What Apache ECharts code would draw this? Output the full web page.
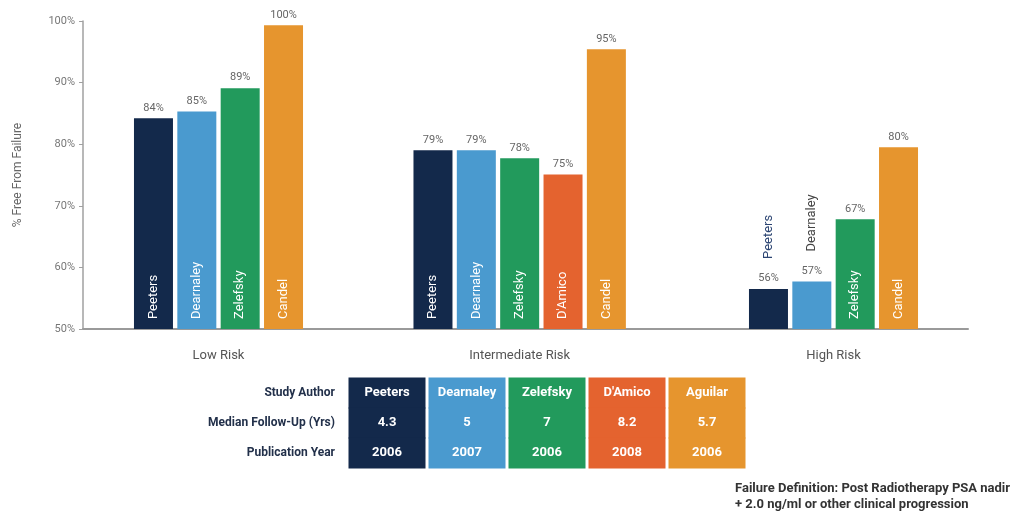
<!DOCTYPE html>
<html>
<head>
<meta charset="utf-8">
<title>% Free From Failure by Risk Group</title>
<script src="https://cdn.jsdelivr.net/npm/echarts@6/dist/echarts.min.js"></script>
<style>
  html, body { margin: 0; padding: 0; background: #fff; }
  #chart { width: 1018px; height: 513px; }
</style>
</head>
<body>
<div id="chart"></div>
<script>
  // risk groups
  const groupNames = ['Low Risk', 'Intermediate Risk', 'High Risk']

  // bars per group
  const lowAuthors = ['Peeters', 'Dearnaley', 'Zelefsky', 'Candel']
  const lowValues = [84.2, 85.3, 89.1, 99.3]
  const lowLabels = ['84%', '85%', '89%', '100%']

  const intAuthors = ['Peeters', 'Dearnaley', 'Zelefsky', "D'Amico", 'Candel']
  const intValues = [79.0, 79.0, 77.7, 75.1, 95.4]
  const intLabels = ['79%', '79%', '78%', '75%', '95%']

  const highAuthors = ['Peeters', 'Dearnaley', 'Zelefsky', 'Candel']
  const highValues = [56.5, 57.7, 67.8, 79.5]
  const highLabels = ['56%', '57%', '67%', '80%']

  const yTicks = [50, 60, 70, 80, 90, 100]

  // study table
  const rowHeads = ['Study Author', 'Median Follow-Up (Yrs)', 'Publication Year']
  const tableAuthors = ['Peeters', 'Dearnaley', 'Zelefsky', "D'Amico", 'Aguilar']
  const followUp = ['4.3', '5', '7', '8.2', '5.7']
  const pubYear = ['2006', '2007', '2006', '2008', '2006']

  const authorColor = {
    Peeters: '#13294b',
    Dearnaley: '#4a9acf',
    Zelefsky: '#229a5c',
    "D'Amico": '#e4632f',
    Candel: '#e6952e',
    Aguilar: '#e6952e'
  }
  const outsideNameColor = { Peeters: '#2b4472', Dearnaley: '#444' }

  const FONT = 'Roboto, "Open Sans", sans-serif'
  const groups = [
    { authors: lowAuthors, values: lowValues, labels: lowLabels, left: 131.8 },
    { authors: intAuthors, values: intValues, labels: intLabels, left: 411.3 },
    { authors: highAuthors, values: highValues, labels: highLabels, left: 746.8 }
  ]
  const BAND = 43.35
  const GRID_TOP = 21
  const GRID_BOTTOM = 184

  const chart = echarts.init(document.getElementById('chart'))

  const grids = [{ left: 83, right: 50, top: GRID_TOP, bottom: GRID_BOTTOM }]
  const xAxes = [{
    gridIndex: 0, type: 'value', min: 0, max: 1,
    axisLine: { show: true, lineStyle: { color: '#9a9a9a', width: 2 } },
    axisTick: { show: false }, axisLabel: { show: false }, splitLine: { show: false }
  }]
  const yAxes = [{
    gridIndex: 0, type: 'value', min: yTicks[0], max: yTicks[yTicks.length - 1], interval: 10,
    name: '% Free From Failure', nameLocation: 'middle', nameGap: 59,
    nameTextStyle: { color: '#666', fontSize: 12, fontFamily: FONT },
    axisLine: { show: true, lineStyle: { color: '#a0a0a0', width: 1.5 } },
    axisTick: { show: true, length: 4, lineStyle: { color: '#a0a0a0' } },
    axisLabel: { formatter: '{value}%', color: '#777', fontSize: 11, fontFamily: FONT, margin: 8 },
    splitLine: { show: false }
  }]
  const series = []

  groups.forEach((g, i) => {
    const gi = i + 1
    grids.push({ left: g.left, width: BAND * g.authors.length, top: GRID_TOP, bottom: GRID_BOTTOM })
    xAxes.push({
      gridIndex: gi, type: 'category', data: g.authors,
      name: groupNames[i], nameLocation: 'middle', nameGap: 20,
      nameTextStyle: { color: '#555', fontSize: 13, fontFamily: FONT },
      axisLine: { show: false }, axisTick: { show: false }, axisLabel: { show: false }
    })
    yAxes.push({ gridIndex: gi, type: 'value', min: 50, max: 100, show: false })

    // visible bars with value labels on top
    series.push({
      type: 'bar', xAxisIndex: gi, yAxisIndex: gi, barWidth: 39, barGap: '-100%',
      data: g.values.map((v, k) => ({ value: v, itemStyle: { color: authorColor[g.authors[k]] } })),
      label: {
        show: true, position: 'top', distance: 5,
        formatter: p => g.labels[p.dataIndex],
        color: '#666', fontSize: 11, fontFamily: FONT
      }
    })
    // author names, rotated
    series.push({
      type: 'bar', xAxisIndex: gi, yAxisIndex: gi, barWidth: 39, barGap: '-100%',
      itemStyle: { color: 'transparent' },
      data: g.values.map((v, k) => {
        const name = g.authors[k]
        const item = { value: v }
        if (v - 50 < 10) {
          item.label = { position: 'top', distance: 30, color: outsideNameColor[name] || '#444' }
        }
        return item
      }),
      label: {
        show: true, position: 'insideBottom', distance: 10, rotate: 90,
        align: 'left', verticalAlign: 'middle',
        formatter: p => g.authors[p.dataIndex],
        color: '#fff', fontSize: 13, fontFamily: FONT
      },
      silent: true
    })
  })

  // table grid
  const tableGrid = grids.length
  grids.push({ left: 347, width: 400, top: 378, height: 90 })
  xAxes.push({ gridIndex: tableGrid, type: 'category', data: tableAuthors, show: false })
  yAxes.push({
    gridIndex: tableGrid, type: 'category', data: rowHeads, inverse: true,
    axisLine: { show: false }, axisTick: { show: false },
    axisLabel: { color: '#22304a', fontSize: 12, fontWeight: 'bold', fontFamily: FONT, margin: 12 }
  })
  const tableRows = [tableAuthors, followUp, pubYear]
  const cells = []
  tableRows.forEach((row, r) => row.forEach((_, c) => cells.push([c, r])))

  series.push({
    type: 'custom', xAxisIndex: tableGrid, yAxisIndex: tableGrid, silent: true,
    data: cells,
    renderItem: (params, api) => {
      const c = api.value(0)
      const r = api.value(1)
      const center = api.coord([c, r])
      const size = api.size([1, 1])
      const w = size[0] - 3
      const h = size[1] + 1
      return {
        type: 'group',
        children: [
          {
            type: 'rect',
            shape: { x: center[0] - w / 2, y: center[1] - h / 2, width: w, height: h },
            style: { fill: authorColor[tableAuthors[c]] }
          },
          {
            type: 'text', x: center[0], y: center[1],
            style: {
              text: tableRows[r][c], fill: '#fff', align: 'center', verticalAlign: 'middle',
              font: 'bold 13px ' + FONT
            }
          }
        ]
      }
    }
  })

  const option = {
    animation: false,
    title: {
      text: 'Failure Definition: Post Radiotherapy PSA nadir\n+ 2.0 ng/ml or other clinical progression',
      left: 735, top: 481, padding: 0,
      textStyle: { color: '#333', fontSize: 13, fontWeight: 'bold', fontFamily: FONT, lineHeight: 16 }
    },
    grid: grids,
    xAxis: xAxes,
    yAxis: yAxes,
    series: series
  }
  chart.setOption(option)
</script>
</body>
</html>
